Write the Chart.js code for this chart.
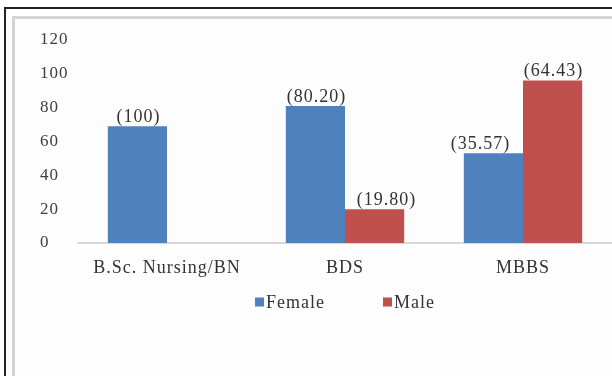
<!DOCTYPE html>
<html>
<head>
<meta charset="utf-8">
<script src="https://cdn.jsdelivr.net/npm/chart.js@4.4.0/dist/chart.umd.min.js"></script>
<style>
  html, body { margin: 0; padding: 0; background: #fff; overflow: hidden; }
  #page { position: relative; width: 612px; height: 376px; overflow: hidden; }
  #outer { position: absolute; left: 4px; top: 7px; width: 700px; height: 400px;
           border-left: 2px solid #222; border-top: 2px solid #222; }
  #panel { position: absolute; left: 12px; top: 16px; width: 700px; height: 400px;
           border-left: 3px solid #d4d4d4; border-top: 3px solid #d4d4d4; background: #fdfdfd; }
  #wrap { position: absolute; left: 0; top: 0; width: 612px; height: 376px; }
</style>
</head>
<body>
<div id="page">
  <div id="outer"></div>
  <div id="panel"></div>
  <div id="wrap"><canvas id="genderChart" width="612" height="376"></canvas></div>
</div>
<script>
// categories and series (bar heights), percentages shown above the bars
const courses = ['B.Sc. Nursing/BN', 'BDS', 'MBBS'];
const femaleCounts = [69, 81, 53];
const maleCounts = [null, 20, 96];
const femalePct = ['100', '80.20', '35.57'];
const malePct = [null, '19.80', '64.43'];
const yTicks = [0, 20, 40, 60, 80, 100, 120];

const serif = "'Liberation Serif', 'DejaVu Serif', serif";
Chart.defaults.font.family = serif;

// the reference text is a bit wide, so spread the letters a little
const wideText = {
    id: 'wideText',
    beforeDraw(chart) {
        chart.ctx.letterSpacing = '1px';
    }
};

// draws "(xx.xx)" above every bar
const pctLabels = {
    id: 'pctLabels',
    afterDatasetsDraw(chart) {
        const ctx = chart.ctx;
        const pctSets = [femalePct, malePct];
        // small sideways nudges so neighbouring labels don't collide (like the original)
        const nudge = { '0-2': -14, '1-1': 11 };
        ctx.save();
        ctx.font = '18px ' + serif;
        ctx.fillStyle = '#333';
        ctx.textAlign = 'center';
        ctx.textBaseline = 'bottom';
        chart.data.datasets.forEach((ds, i) => {
            chart.getDatasetMeta(i).data.forEach((bar, j) => {
                const txt = pctSets[i][j];
                if (txt === null || ds.data[j] === null) return;
                const dx = nudge[i + '-' + j] || 0;
                ctx.fillText('(' + txt + ')', bar.x + dx + 1, bar.y);
            });
        });
        ctx.restore();
    }
};

// legend under the axis: small square right next to the name
const boxLegend = {
    id: 'boxLegend',
    afterDraw(chart) {
        const ctx = chart.ctx;
        const area = chart.chartArea;
        const sets = chart.data.datasets;
        const box = 9, gap = 2, itemGap = 58;
        ctx.save();
        ctx.font = '18px ' + serif;
        ctx.textBaseline = 'middle';
        ctx.textAlign = 'left';
        const widths = sets.map(ds => ctx.measureText(ds.label).width);
        let total = 0;
        widths.forEach((w, i) => { total += box + gap + w + (i > 0 ? itemGap : 0); });
        let x = (area.left + area.right) / 2 - total / 2;
        const y = 303;
        sets.forEach((ds, i) => {
            ctx.fillStyle = ds.backgroundColor;
            ctx.fillRect(x, y - box / 2 - 1, box, box);
            ctx.fillStyle = '#333';
            ctx.fillText(ds.label, x + box + gap, y);
            x += box + gap + widths[i] + itemGap;
        });
        ctx.restore();
    }
};

const ctx = document.getElementById('genderChart').getContext('2d');
const genderChart = new Chart(ctx, {
    type: 'bar',
    data: {
        labels: courses,
        datasets: [{
            label: 'Female',
            data: femaleCounts,
            backgroundColor: '#4F81BD',
            categoryPercentage: 0.665,
            barPercentage: 1.0
        },
        {
            label: 'Male',
            data: maleCounts,
            backgroundColor: '#C0504D',
            categoryPercentage: 0.665,
            barPercentage: 1.0
        }]
    },
    options: {
        responsive: false,
        animation: false,
        layout: {
            padding: { top: 40, left: 40, right: 0, bottom: 93 }
        },
        plugins: {
            tooltip: { enabled: false },
            legend: { display: false }
        },
        scales: {
            x: {
                afterFit(scale) {
                    scale.height = 40;
                },
                grid: { display: false, drawTicks: false },
                border: { display: true, color: '#d9d9d9', width: 2 },
                ticks: {
                    font: { family: serif, size: 18 },
                    color: '#333',
                    padding: 14,
                    maxRotation: 0
                }
            },
            y: {
                min: 0,
                max: 120,
                afterBuildTicks(scale) {
                    scale.ticks = yTicks.map(v => ({ value: v }));
                },
                afterFit(scale) {
                    scale.width = 38;
                },
                grid: { display: false, drawTicks: false },
                border: { display: false },
                ticks: {
                    font: { family: serif, size: 17 },
                    color: '#404040',
                    crossAlign: 'far',
                    padding: 0
                }
            }
        }
    },
    plugins: [wideText, pctLabels, boxLegend]
});
</script>
</body>
</html>
